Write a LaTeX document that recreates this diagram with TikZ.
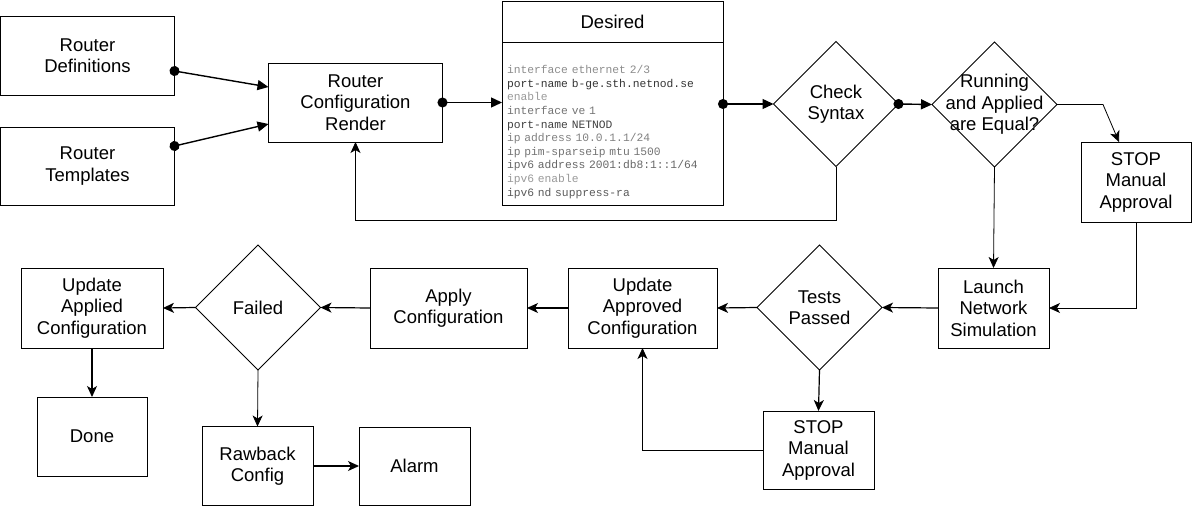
\documentclass[tikz,border=0pt]{standalone}
\usepackage{fontspec}
\setmainfont{Liberation Sans}
\setmonofont[WordSpace={1,0,0}]{Liberation Mono}
\usetikzlibrary{shapes.geometric,arrows.meta}

\begin{document}
\begin{tikzpicture}[x=1pt,y=-1pt,
  box/.style={draw,line width=1pt,outer sep=0pt,align=center,inner sep=2pt,font=\fontsize{18.5}{21.5}\selectfont},
  dec/.style={box,diamond,inner sep=-12pt,minimum width=125pt,minimum height=125pt},
  blk/.style={line width=1.4pt,-{Triangle[length=11pt,width=10pt]}},
  dot/.style={blk,{Circle[length=10pt]}-{Triangle[length=11pt,width=10pt]},shorten <=-5pt},
  cls/.style={line width=1.2pt,-{Stealth[length=11pt,width=10pt,inset=3pt]}},
  thin/.style={line width=0.8pt,-{Stealth[length=11pt,width=10pt,inset=3pt]}}]
\useasboundingbox (0,0) rectangle (1192,506);

% top row
\node [box,minimum width=174pt,minimum height=79pt] (defs) at (87.5,55.5) {Router\\Definitions};
\node [box,minimum width=174pt,minimum height=78pt] (tmpl) at (87.5,166) {Router\\Templates};
\node [box,minimum width=174pt,minimum height=79pt] (render) at (355.5,102.5) {Router\\Configuration\\Render};
\node [box,minimum width=221pt,minimum height=41pt] (desired) at (612.5,21.5) {Desired};
\node [box,anchor=north,minimum width=221pt,minimum height=163pt,text width=211pt,align=left,
       font=\ttfamily\fontsize{11.3}{13.6}\selectfont] (code) at (desired.south)
 {\rule{0pt}{25pt}\textcolor{black!45}{interface ethernet 2/3}\\
  \textcolor{black!80}{port-name b-ge.sth.netnod.se}\\
  \textcolor{black!40}{enable}\\
  \textcolor{black!55}{interface ve 1}\\
  \textcolor{black!75}{port-name NETNOD}\\
  \textcolor{black!50}{ip address 10.0.1.1/24}\\
  \textcolor{black!55}{ip pim-sparseip mtu 1500}\\
  \textcolor{black!60}{ipv6 address 2001:db8:1::1/64}\\
  \textcolor{black!40}{ipv6 enable}\\
  \textcolor{black!65}{ipv6 nd suppress-ra}};
\node [dec] (chk) at (836,104) {Check\\Syntax};
\node [dec] (run) at (994.5,104.5) {Running\\and Applied\\are Equal?};
\node [box,minimum width=110pt,minimum height=80pt] (stop1) at (1136,182) {STOP\\Manual\\Approval};

% bottom rows
\node [box,minimum width=111pt,minimum height=80pt] (launch) at (993.5,308) {Launch\\Network\\Simulation};
\node [dec] (tests) at (819.5,307.5) {Tests\\Passed};
\node [box,minimum width=149pt,minimum height=80pt] (approved) at (642.5,308) {Update\\Approved\\Configuration};
\node [box,minimum width=157pt,minimum height=80pt] (apply) at (448.5,308) {Apply\\Configuration};
\node [dec] (failed) at (258,307.5) {Failed};
\node [box,minimum width=142pt,minimum height=80pt] (updapp) at (92,308) {Update\\Applied\\Configuration};
\node [box,minimum width=110pt,minimum height=79pt] (done) at (92,436.5) {Done};
\node [box,minimum width=111pt,minimum height=79pt] (rawback) at (257.5,466) {Rawback\\Config};
\node [box,minimum width=111pt,minimum height=78pt] (alarm) at (414.5,466) {Alarm};
\node [box,minimum width=111pt,minimum height=78pt] (stop2) at (818.5,450) {STOP\\Manual\\Approval};

% connectors
\draw [dot] ([yshift=-15.5pt]defs.east) -- ([yshift=15.5pt]render.west);
\draw [dot] ([yshift=20pt]tmpl.east) -- ([yshift=-21.5pt]render.west);
\draw [dot] (render.east) -- (render.east -| code.west);
\draw [dot] (chk.west -| code.east) -- (chk.west);
\draw [dot] (chk.east) -- (run.west);
\draw [thin] (run.east) -- ++(46,0) -- ([xshift=-17pt]stop1.north);
\draw [thin] (chk.south) -- ++(0,54) -| (render.south);
\draw [thin] (run.south) -- (launch.north);
\draw [thin] (stop1.south) |- (launch.east);
\draw [cls] (launch.west) -- (tests.east);
\draw [cls] (tests.west) -- (approved.east);
\draw [cls] (tests.south) -- (stop2.north);
\draw [thin] (stop2.west) -| (approved.south);
\draw [cls] (approved.west) -- (apply.east);
\draw [cls] (apply.west) -- (failed.east);
\draw [cls] (failed.west) -- (updapp.east);
\draw [cls] (updapp.south) -- (done.north);
\draw [thin] (failed.south) -- (rawback.north);
\draw [cls] (rawback.east) -- (alarm.west);

\end{tikzpicture}
\end{document}
